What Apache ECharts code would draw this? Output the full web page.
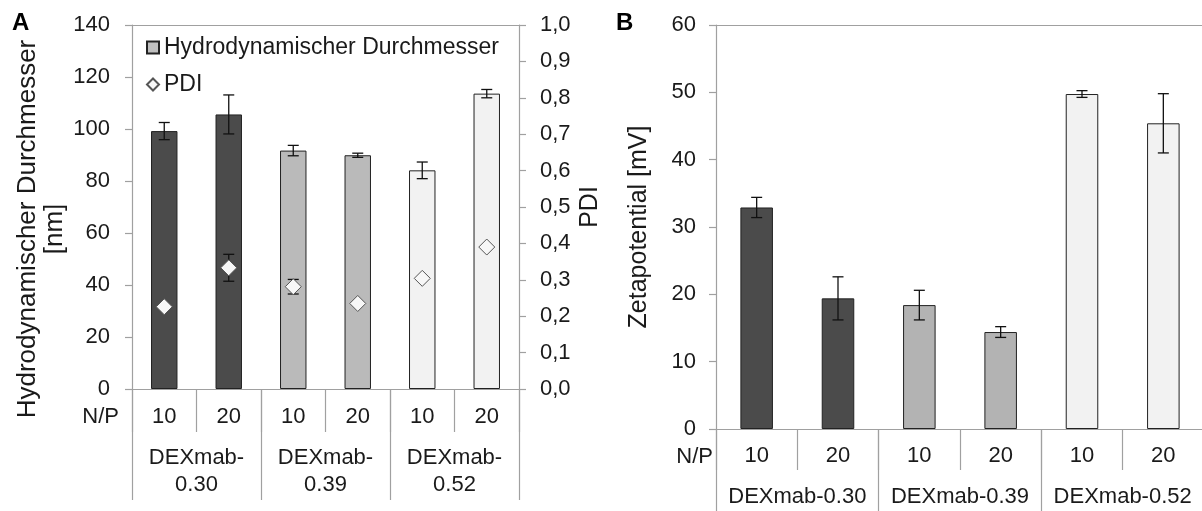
<!DOCTYPE html>
<html>
<head>
<meta charset="utf-8">
<script src="https://cdn.jsdelivr.net/npm/echarts@6/dist/echarts.min.js"></script>
<style>
html,body{margin:0;padding:0;background:#fff;}
#chart{width:1202px;height:511px;}
</style>
</head>
<body>
<div id="chart"></div>
<script>
// ---- data ----
const npLabels = ['10', '20', '10', '20', '10', '20'];
const groupLabels = ['DEXmab-0.30', 'DEXmab-0.39', 'DEXmab-0.52'];
const sizeValues = [99.2, 105.6, 91.7, 89.9, 84.1, 113.6];      // Hydrodynamischer Durchmesser [nm]
const sizeErrors = [3.3, 7.5, 2.0, 0.8, 3.2, 1.6];
const pdiValues = [0.226, 0.333, 0.281, 0.235, 0.304, 0.390];   // PDI
const pdiErrors = [0, 0.037, 0.02, 0, 0, 0];
const zetaValues = [32.9, 19.4, 18.4, 14.4, 49.75, 45.4];       // Zetapotential [mV]
const zetaErrors = [1.5, 3.2, 2.2, 0.8, 0.5, 4.4];

// ---- styles ----
const barColorsA = ['#4b4b4b', '#4b4b4b', '#bababa', '#bababa', '#f2f2f2', '#f2f2f2'];
const barColorsB = ['#4b4b4b', '#4b4b4b', '#b3b3b3', '#b3b3b3', '#f2f2f2', '#f2f2f2'];
const FONT = 'Liberation Sans';
const TXT = '#1a1a1a';
const AX = '#a0a0a0';

function errData(vals, errs) {
  const out = [];
  vals.forEach((v, i) => { if (errs[i] > 0) out.push([i, v - errs[i], v + errs[i]]); });
  return out;
}
function errRender(params, api) {
  const x = api.value(0);
  const lo = api.coord([x, api.value(1)]);
  const hi = api.coord([x, api.value(2)]);
  const hw = 5.5;
  const st = { stroke: '#111', lineWidth: 1.3 };
  return {
    type: 'group',
    children: [
      { type: 'line', shape: { x1: lo[0], y1: lo[1], x2: hi[0], y2: hi[1] }, style: st },
      { type: 'line', shape: { x1: lo[0] - hw, y1: lo[1], x2: lo[0] + hw, y2: lo[1] }, style: st },
      { type: 'line', shape: { x1: hi[0] - hw, y1: hi[1], x2: hi[0] + hw, y2: hi[1] }, style: st }
    ]
  };
}

const chart = echarts.init(document.getElementById('chart'), null, { renderer: 'canvas' });
const lineSt = { color: AX, width: 1.2 };

const option = {
  animation: false,
  textStyle: { fontFamily: FONT, color: TXT },
  grid: [
    { left: 132, top: 25, width: 387, height: 364, outerBoundsMode: 'none', containLabel: false },
    { left: 716, top: 25, width: 488, height: 404, outerBoundsMode: 'none', containLabel: false }
  ],
  legend: {
    orient: 'vertical', left: 141, top: 31, itemWidth: 12, itemHeight: 12, itemGap: 14,
    textStyle: { fontFamily: FONT, fontSize: 23, color: TXT },
    data: [
      { name: 'Hydrodynamischer Durchmesser', icon: 'rect' },
      { name: 'PDI', icon: 'diamond' }
    ]
  },
  xAxis: [
    { gridIndex: 0, type: 'category', position: 'bottom', data: npLabels,
      axisLine: { show: true, lineStyle: lineSt },
      axisTick: { show: true, interval: 0, length: 43, lineStyle: lineSt },
      axisLabel: { interval: 0, margin: 17, fontSize: 22, color: TXT, fontFamily: FONT } },
    { gridIndex: 0, type: 'category', position: 'bottom', data: groupLabels,
      axisLine: { show: false },
      axisTick: { show: true, interval: 0, length: 111, lineStyle: lineSt },
      axisLabel: { interval: 0, margin: 55, fontSize: 22, lineHeight: 27, color: TXT, fontFamily: FONT,
        formatter: v => v.replace('-', '-\n') } },
    { gridIndex: 0, type: 'category', position: 'top', data: npLabels,
      axisLine: { show: true, lineStyle: lineSt }, axisTick: { show: false }, axisLabel: { show: false } },
    { gridIndex: 1, type: 'category', position: 'bottom', data: npLabels,
      axisLine: { show: true, lineStyle: lineSt },
      axisTick: { show: true, interval: 0, length: 41, lineStyle: lineSt },
      axisLabel: { interval: 0, margin: 16, fontSize: 22, color: TXT, fontFamily: FONT } },
    { gridIndex: 1, type: 'category', position: 'bottom', data: groupLabels,
      axisLine: { show: false },
      axisTick: { show: true, interval: 0, length: 95, lineStyle: lineSt },
      axisLabel: { interval: 0, margin: 57, fontSize: 22, color: TXT, fontFamily: FONT } },
    { gridIndex: 1, type: 'category', position: 'top', data: npLabels,
      axisLine: { show: true, lineStyle: lineSt }, axisTick: { show: false }, axisLabel: { show: false } }
  ],
  yAxis: [
    { gridIndex: 0, type: 'value', position: 'left', min: 0, max: 140, interval: 20,
      name: 'Hydrodynamischer Durchmesser\n[nm]', nameLocation: 'middle', nameGap: 64,
      nameTextStyle: { fontSize: 26, lineHeight: 27, color: TXT, fontFamily: FONT, padding: [0, 44, 0, 0] },
      axisLine: { show: true, lineStyle: lineSt },
      axisTick: { show: true, length: 7, lineStyle: lineSt },
      axisLabel: { margin: 22, fontSize: 22, color: TXT, fontFamily: FONT },
      splitLine: { show: false } },
    { gridIndex: 0, type: 'value', position: 'right', min: 0, max: 1, interval: 0.1,
      name: 'PDI', nameLocation: 'middle', nameGap: 59,
      nameTextStyle: { fontSize: 25, color: TXT, fontFamily: FONT },
      axisLine: { show: true, lineStyle: lineSt },
      axisTick: { show: true, length: 7, lineStyle: lineSt },
      axisLabel: { margin: 21, fontSize: 22, color: TXT, fontFamily: FONT,
        formatter: v => v.toFixed(1).replace('.', ',') },
      splitLine: { show: false } },
    { gridIndex: 1, type: 'value', position: 'left', min: 0, max: 60, interval: 10,
      name: 'Zetapotential [mV]', nameLocation: 'middle', nameGap: 64,
      nameTextStyle: { fontSize: 25, color: TXT, fontFamily: FONT },
      axisLine: { show: true, lineStyle: lineSt },
      axisTick: { show: true, length: 7, lineStyle: lineSt },
      axisLabel: { margin: 20, fontSize: 22, color: TXT, fontFamily: FONT },
      splitLine: { show: false } }
  ],
  series: [
    { name: 'Hydrodynamischer Durchmesser', type: 'bar', xAxisIndex: 0, yAxisIndex: 0,
      barWidth: '41%',
      itemStyle: { color: '#bfbfbf', borderColor: '#222', borderWidth: 1 },
      data: sizeValues.map((v, i) => ({ value: v, itemStyle: { color: barColorsA[i] } })) },
    { name: 'errSize', type: 'custom', xAxisIndex: 0, yAxisIndex: 0, z: 4,
      renderItem: errRender, encode: { x: 0, y: [1, 2] }, data: errData(sizeValues, sizeErrors) },
    { name: 'errPdi', type: 'custom', xAxisIndex: 0, yAxisIndex: 1, z: 4,
      renderItem: errRender, encode: { x: 0, y: [1, 2] }, data: errData(pdiValues, pdiErrors) },
    { name: 'PDI', type: 'scatter', xAxisIndex: 0, yAxisIndex: 1, z: 6,
      symbol: 'diamond', symbolSize: 16,
      itemStyle: { color: '#f7f7f7', borderColor: '#555', borderWidth: 1, opacity: 1 },
      data: pdiValues.map((v, i) => [i, v]) },
    { name: 'Zetapotential', type: 'bar', xAxisIndex: 3, yAxisIndex: 2,
      barWidth: '40%',
      itemStyle: { color: '#bfbfbf', borderColor: '#222', borderWidth: 1 },
      data: zetaValues.map((v, i) => ({ value: v, itemStyle: { color: barColorsB[i] } })) },
    { name: 'errZeta', type: 'custom', xAxisIndex: 3, yAxisIndex: 2, z: 4,
      renderItem: errRender, encode: { x: 0, y: [1, 2] }, data: errData(zetaValues, zetaErrors) }
  ],
  graphic: [
    { type: 'text', left: 12, top: 11, style: { text: 'A', fontFamily: FONT, fontSize: 24, fontWeight: 'bold', fill: '#000' } },
    { type: 'text', left: 616, top: 11, style: { text: 'B', fontFamily: FONT, fontSize: 24, fontWeight: 'bold', fill: '#000' } },
    { type: 'text', x: 119, y: 417, style: { text: 'N/P', fontFamily: FONT, fontSize: 22, fill: TXT, align: 'right', verticalAlign: 'middle' } },
    { type: 'text', x: 713, y: 457, style: { text: 'N/P', fontFamily: FONT, fontSize: 22, fill: TXT, align: 'right', verticalAlign: 'middle' } }
  ]
};
chart.setOption(option);
</script>
</body>
</html>
